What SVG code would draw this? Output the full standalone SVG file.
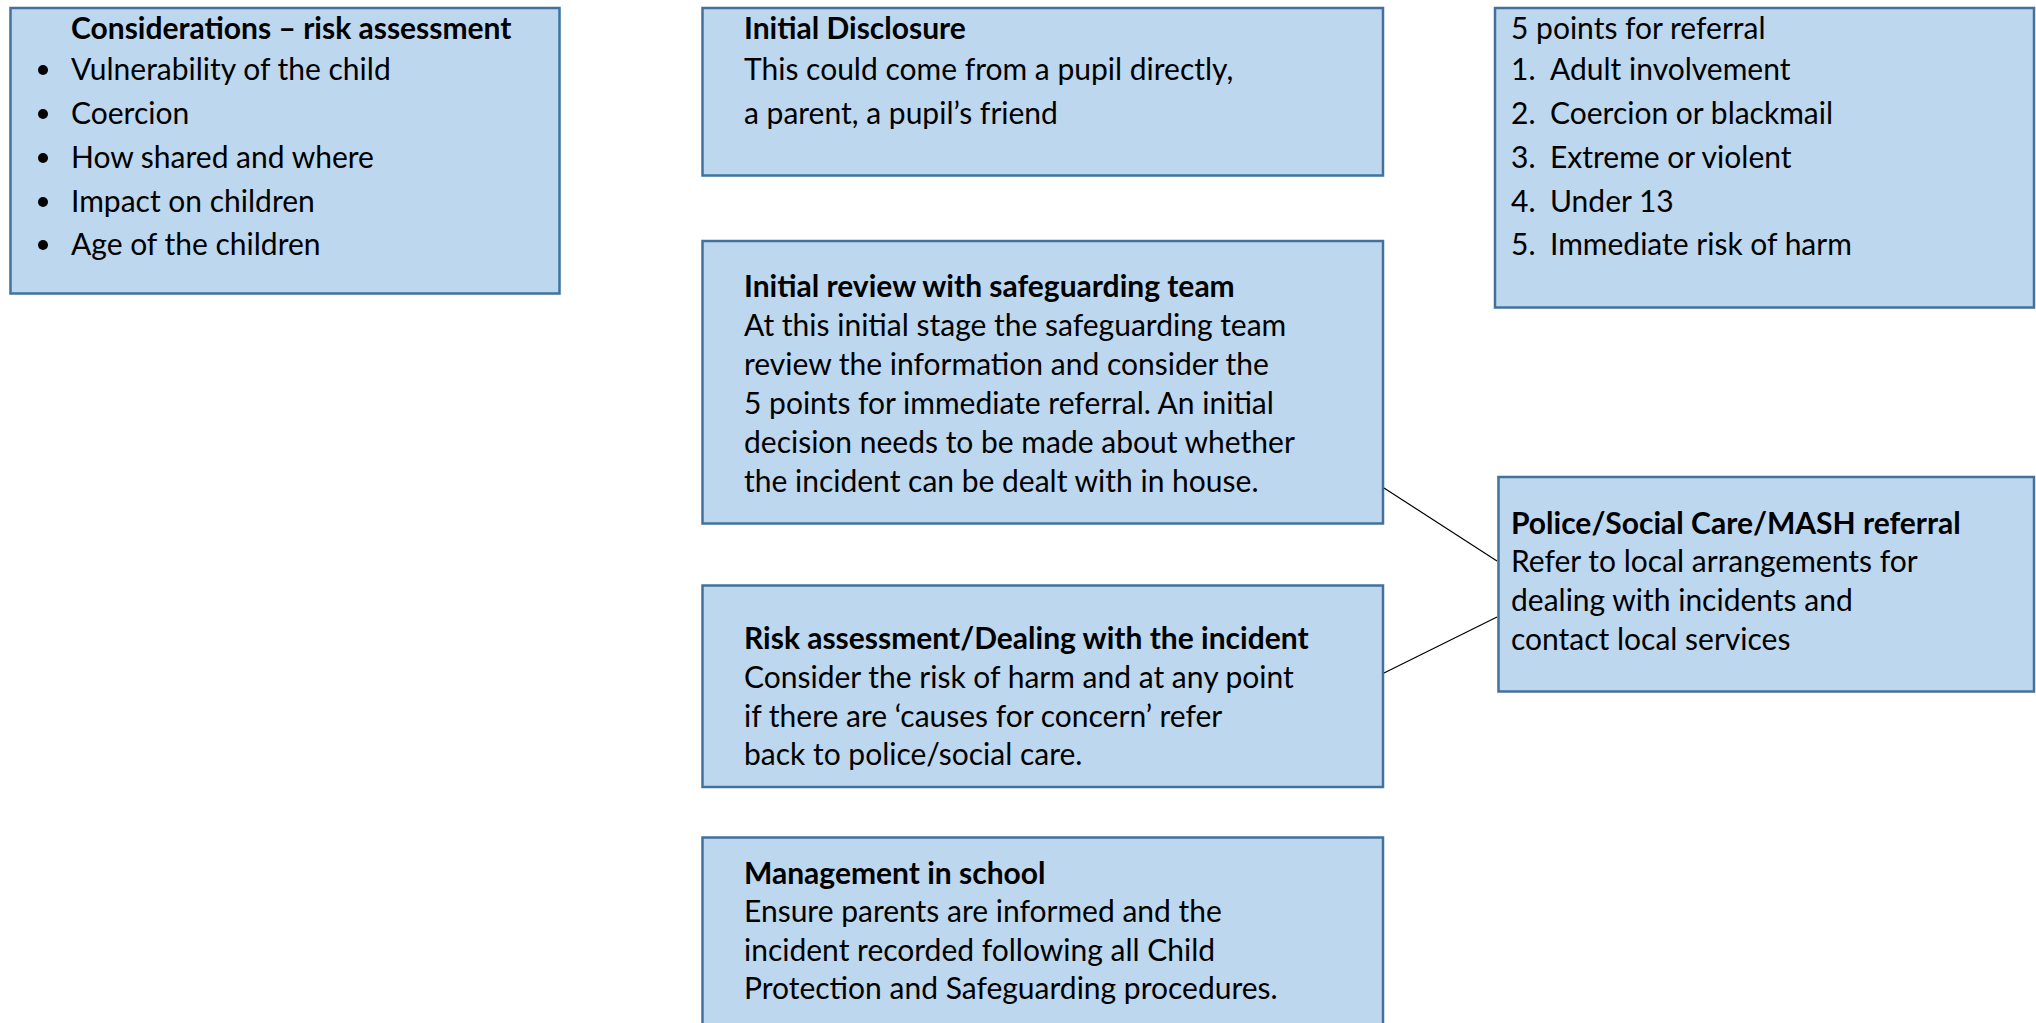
<svg xmlns="http://www.w3.org/2000/svg" width="2036" height="1023" viewBox="0 0 2036 1023">
<style>
.box{fill:#BDD7EE;stroke:#41719C;stroke-width:2.5}
text{font-family:Lato,"Open Sans","Liberation Sans",sans-serif;font-size:30px;fill:#000}
.b{font-weight:bold}
.conn{stroke:#000;stroke-width:1.2;fill:none}
.dot{fill:#000}
</style>
<rect width="2036" height="1023" fill="#fff"/>
<g id="considerations">
<rect class="box" x="10.5" y="8" width="549" height="285.5"/>
<text class="b" x="71" y="39">Considerations – risk assessment</text>
<circle class="dot" cx="43" cy="70" r="5"/><text x="71" y="80">Vulnerability of the child</text>
<circle class="dot" cx="43" cy="114" r="5"/><text x="71" y="124">Coercion</text>
<circle class="dot" cx="43" cy="158" r="5"/><text x="71" y="168">How shared and where</text>
<circle class="dot" cx="43" cy="202" r="5"/><text x="71" y="212">Impact on children</text>
<circle class="dot" cx="43" cy="245" r="5"/><text x="71" y="255">Age of the children</text>
</g>
<g id="initial-disclosure">
<rect class="box" x="702.5" y="8" width="680.5" height="167.5"/>
<text class="b" x="744" y="39">Initial Disclosure</text>
<text x="744" y="80">This could come from a pupil directly,</text>
<text x="744" y="124">a parent, a pupil’s friend</text>
</g>
<g id="five-points">
<rect class="box" x="1495" y="8" width="539" height="299.5"/>
<text x="1511" y="39">5 points for referral</text>
<text x="1511" y="80">1.</text><text x="1550" y="80">Adult involvement</text>
<text x="1511" y="124">2.</text><text x="1550" y="124">Coercion or blackmail</text>
<text x="1511" y="168">3.</text><text x="1550" y="168">Extreme or violent</text>
<text x="1511" y="212">4.</text><text x="1550" y="212">Under 13</text>
<text x="1511" y="255">5.</text><text x="1550" y="255">Immediate risk of harm</text>
</g>
<g id="initial-review">
<rect class="box" x="702.5" y="241" width="680.5" height="282.5"/>
<text class="b" x="744" y="297">Initial review with safeguarding team</text>
<text x="744" y="336">At this initial stage the safeguarding team</text>
<text x="744" y="375">review the information and consider the</text>
<text x="744" y="414">5 points for immediate referral. An initial</text>
<text x="744" y="453">decision needs to be made about whether</text>
<text x="744" y="492">the incident can be dealt with in house.</text>
</g>
<g id="police-referral">
<rect class="box" x="1498.5" y="477" width="535.5" height="214.5"/>
<text class="b" x="1511" y="534">Police/Social Care/MASH referral</text>
<text x="1511" y="572">Refer to local arrangements for</text>
<text x="1511" y="611">dealing with incidents and</text>
<text x="1511" y="650">contact local services</text>
</g>
<g id="risk-assessment">
<rect class="box" x="702.5" y="585.5" width="680.5" height="201.5"/>
<text class="b" x="744" y="649">Risk assessment/Dealing with the incident</text>
<text x="744" y="688">Consider the risk of harm and at any point</text>
<text x="744" y="727">if there are ‘causes for concern’ refer</text>
<text x="744" y="765">back to police/social care.</text>
</g>
<g id="management">
<rect class="box" x="702.5" y="837.5" width="680.5" height="200"/>
<text class="b" x="744" y="884">Management in school</text>
<text x="744" y="922">Ensure parents are informed and the</text>
<text x="744" y="961">incident recorded following all Child</text>
<text x="744" y="999">Protection and Safeguarding procedures.</text>
</g>
<g id="connectors">
<line class="conn" x1="1384" y1="488" x2="1497" y2="561"/>
<line class="conn" x1="1384" y1="673" x2="1497" y2="617"/>
</g>
</svg>
